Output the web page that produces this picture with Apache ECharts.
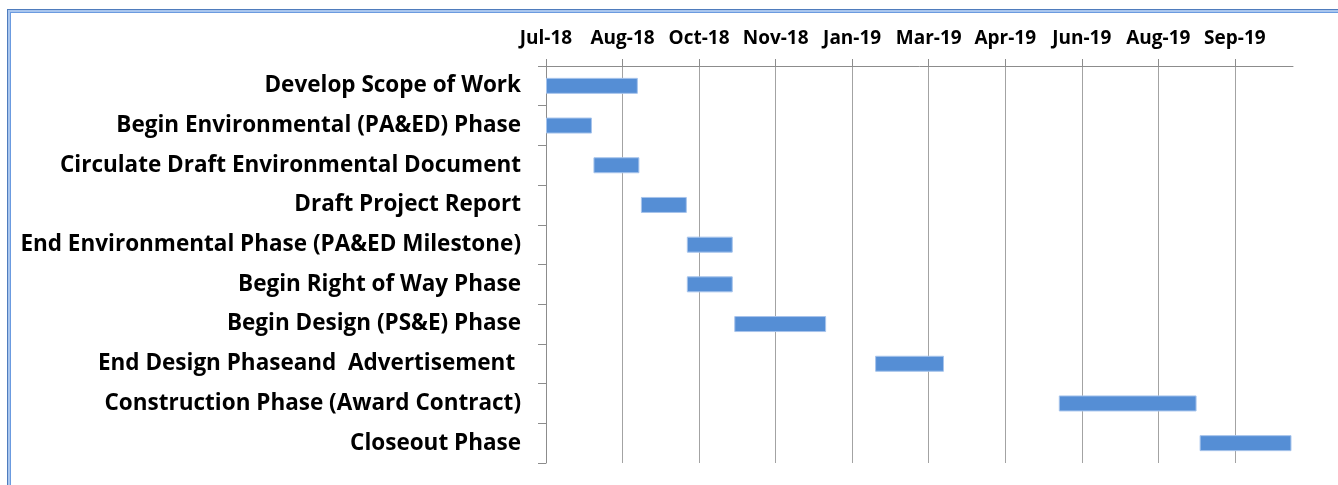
<!DOCTYPE html>
<html>
<head>
<meta charset="utf-8">
<title>Project Schedule</title>
<script src="https://cdn.jsdelivr.net/npm/echarts@6/dist/echarts.min.js"></script>
<style>
  html, body { margin: 0; padding: 0; background: #fff; }
  #frame {
    position: absolute; left: 7px; top: 9px; width: 1400px; height: 600px;
    border-left: 1px solid #4f7cbd; border-top: 1px solid #4f7cbd;
  }
  #frame .mid {
    width: 100%; height: 100%;
    border-left: 2px solid #a9c6ee; border-top: 2px solid #a9c6ee;
  }
  #frame .inner {
    width: 100%; height: 100%;
    border-left: 1px solid #6b9be0; border-top: 1px solid #6b9be0;
  }
  #chart { position: absolute; left: 0; top: 0; width: 1338px; height: 485px; }
</style>
</head>
<body>
<div id="frame"><div class="mid"><div class="inner"></div></div></div>
<div id="chart"></div>
<script>
// schedule data
const tasks = [
  'Develop Scope of Work',
  'Begin Environmental (PA&ED) Phase',
  'Circulate Draft Environmental Document',
  'Draft Project Report',
  'End Environmental Phase (PA&ED Milestone)',
  'Begin Right of Way Phase',
  'Begin Design (PS&E) Phase',
  'End Design Phaseand  Advertisement ',
  'Construction Phase (Award Contract)',
  'Closeout Phase'
]
const startDates = [
  '2018-07-01', '2018-07-01', '2018-08-01', '2018-09-01', '2018-10-01',
  '2018-10-01', '2018-11-01', '2019-02-01', '2019-06-01', '2019-09-01'
]
const durations = [60, 30, 30, 30, 30, 30, 60, 45, 90, 60] // days

const axisStart = '2018-07-01'
const axisDays = 488
const tickDays = 50

const MONTHS = ['Jan', 'Feb', 'Mar', 'Apr', 'May', 'Jun', 'Jul', 'Aug', 'Sep', 'Oct', 'Nov', 'Dec']
const DAY = 24 * 3600 * 1000
const base = new Date(axisStart + 'T00:00:00Z').getTime()

function dayOffset(s) {
  return Math.round((new Date(s + 'T00:00:00Z').getTime() - base) / DAY)
}
function fmtDate(v) {
  const d = new Date(base + v * DAY)
  return MONTHS[d.getUTCMonth()] + '-' + String(d.getUTCFullYear()).slice(2)
}

const offsets = startDates.map(dayOffset)

const chart = echarts.init(document.getElementById('chart'))
chart.setOption({
  animation: false,
  textStyle: { fontFamily: 'Open Sans', fontWeight: 'bold', color: '#000' },
  grid: { left: 546, right: 45, top: 66, bottom: 22, containLabel: false },
  xAxis: {
    type: 'value',
    position: 'top',
    min: 0,
    max: axisDays,
    interval: tickDays,
    axisLine: { show: true, lineStyle: { color: '#8c8c8c', width: 1 } },
    axisTick: { show: true, length: 7, lineStyle: { color: '#8c8c8c' } },
    splitLine: { show: true, showMaxLine: false, lineStyle: { color: '#a3a3a3', width: 1 } },
    axisLabel: {
      margin: 18,
      fontSize: 19,
      fontWeight: 'bold',
      color: '#000',
      showMaxLabel: false,
      formatter: (v) => (v % tickDays === 0 ? fmtDate(v) : '')
    }
  },
  yAxis: {
    type: 'category',
    inverse: true,
    data: tasks,
    axisLine: { show: true, lineStyle: { color: '#8c8c8c', width: 1 } },
    axisTick: { show: true, length: 8, lineStyle: { color: '#8c8c8c' } },
    splitLine: { show: false },
    axisLabel: {
      margin: 25,
      fontSize: 22.5,
      fontWeight: 'bold',
      color: '#000'
    }
  },
  series: [
    {
      name: 'start',
      type: 'bar',
      stack: 'gantt',
      barWidth: 16,
      itemStyle: { color: 'transparent' },
      silent: true,
      data: offsets
    },
    {
      name: 'duration',
      type: 'bar',
      stack: 'gantt',
      barWidth: 16,
      itemStyle: { color: '#558ed5', borderColor: '#a7c4ec', borderWidth: 1 },
      data: durations
    }
  ]
})
</script>
</body>
</html>
